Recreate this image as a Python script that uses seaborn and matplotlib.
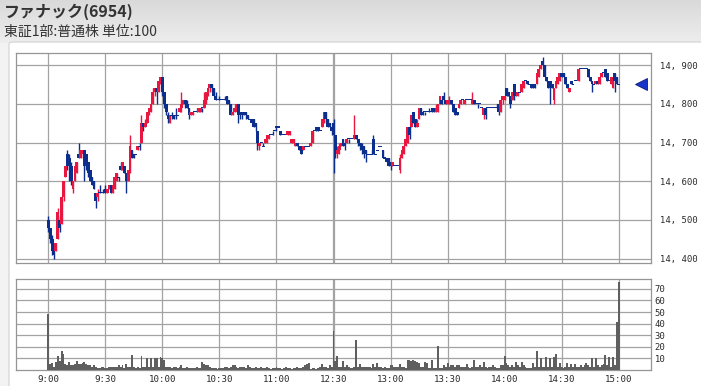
import matplotlib
matplotlib.use("Agg")
import matplotlib.pyplot as plt
from matplotlib.colors import LinearSegmentedColormap
from matplotlib.patches import FancyBboxPatch
import numpy as np
import pandas as pd
import seaborn as sns

TITLE = "ファナック(6954)"
SUBTITLE = "東証1部:普通株 単位:100"

time_labels = ["9:00", "9:30", "10:00", "10:30", "11:00", "12:30",
               "13:00", "13:30", "14:00", "14:30", "15:00"]
# trading-minute slot of each label (lunch break removed)
time_slots = [0, 30, 60, 90, 120, 150, 180, 210, 240, 270, 300]
price_ticks = [14400, 14500, 14600, 14700, 14800, 14900]
volume_ticks = [10, 20, 30, 40, 50, 60, 70]

opens = [
    14500, 14480, 14450, 14420, 14420, 14450, 14500, 14490, 14560, 14610,
    14670, 14660, 14640, 14580, 14600, 14620, 14670, 14660, 14670, 14680,
    14670, 14650, 14630, 14610, 14600, 14570, 14560, 14570, 14570, 14570,
    14580, 14570, 14580, 14590, 14570, 14580, 14600, 14610, 14640, 14630,
    14640, 14620, 14600, 14630, 14680, 14670, 14670, 14680, 14690, 14700,
    14750, 14740, 14750, 14780, 14790, 14800, 14830, 14840, 14830, 14860,
    14870, 14830, 14800, 14770, 14750, 14770, 14770, 14770, 14770, 14780,
    14790, 14800, 14810, 14800, 14790, 14770, 14770, 14780, 14780, 14780,
    14780, 14790, 14790, 14810, 14830, 14840, 14850, 14840, 14820, 14810,
    14810, 14810, 14810, 14810, 14820, 14810, 14800, 14770, 14780, 14780,
    14800, 14780, 14780, 14780, 14780, 14770, 14760, 14760, 14760, 14750,
    14730, 14690, 14700, 14690, 14700, 14700, 14710, 14720, 14720, 14730,
    14740, 14740, 14730, 14720, 14720, 14720, 14720, 14720, 14700, 14700,
    14690, 14700, 14690, 14690, 14680, 14690, 14690, 14690, 14690, 14700,
    14730, 14740, 14740, 14730, 14740, 14750, 14780, 14760, 14750, 14740,
    14750, 14720, 14670, 14680, 14690, 14710, 14700, 14700, 14710, 14710,
    14710, 14710, 14720, 14710, 14700, 14690, 14690, 14680, 14670, 14670,
    14670, 14710, 14670, 14680, 14690, 14690, 14680, 14660, 14660, 14660,
    14650, 14640, 14640, 14640, 14640, 14630, 14660, 14670, 14690, 14700,
    14740, 14740, 14780, 14760, 14740, 14760, 14790, 14780, 14780, 14780,
    14780, 14780, 14790, 14790, 14780, 14780, 14800, 14810, 14820, 14810,
    14800, 14800, 14810, 14800, 14790, 14780, 14790, 14800, 14810, 14800,
    14810, 14810, 14810, 14800, 14810, 14800, 14800, 14800, 14790, 14770,
    14790, 14790, 14790, 14790, 14790, 14790, 14790, 14800, 14780, 14810,
    14810, 14840, 14830, 14820, 14810, 14850, 14830, 14820, 14830, 14830,
    14840, 14860, 14860, 14850, 14850, 14850, 14850, 14850, 14870, 14890,
    14910, 14900, 14870, 14860, 14860, 14850, 14810, 14840, 14850, 14860,
    14880, 14880, 14870, 14850, 14830, 14860, 14850, 14860, 14860, 14860,
    14890, 14890, 14890, 14890, 14890, 14870, 14860, 14850, 14850, 14860,
    14850, 14870, 14880, 14890, 14880, 14860, 14850, 14840, 14880, 14870, 14850,
]

highs = [
    14510, 14480, 14460, 14430, 14440, 14530, 14510, 14560, 14600, 14640,
    14680, 14670, 14650, 14600, 14640, 14650, 14700, 14680, 14680, 14680,
    14670, 14650, 14630, 14610, 14600, 14570, 14580, 14590, 14570, 14580,
    14590, 14580, 14590, 14590, 14590, 14610, 14620, 14610, 14650, 14650,
    14640, 14620, 14630, 14720, 14680, 14670, 14670, 14690, 14700, 14770,
    14750, 14760, 14780, 14790, 14800, 14840, 14840, 14840, 14860, 14870,
    14870, 14830, 14800, 14780, 14770, 14780, 14770, 14790, 14770, 14790,
    14830, 14810, 14810, 14810, 14790, 14780, 14780, 14780, 14790, 14790,
    14790, 14790, 14830, 14830, 14840, 14850, 14850, 14840, 14830, 14810,
    14820, 14810, 14810, 14820, 14820, 14810, 14800, 14780, 14800, 14800,
    14800, 14780, 14780, 14780, 14780, 14770, 14760, 14760, 14760, 14750,
    14730, 14700, 14700, 14700, 14710, 14720, 14720, 14720, 14730, 14730,
    14740, 14740, 14730, 14720, 14720, 14720, 14730, 14730, 14710, 14710,
    14700, 14700, 14690, 14690, 14690, 14690, 14690, 14690, 14700, 14730,
    14730, 14740, 14740, 14730, 14760, 14780, 14780, 14760, 14750, 14740,
    14760, 14720, 14690, 14700, 14700, 14710, 14700, 14710, 14710, 14710,
    14710, 14770, 14720, 14710, 14700, 14700, 14690, 14680, 14670, 14670,
    14680, 14720, 14670, 14680, 14690, 14690, 14680, 14660, 14660, 14660,
    14650, 14650, 14640, 14640, 14640, 14670, 14680, 14690, 14710, 14740,
    14740, 14770, 14780, 14760, 14760, 14790, 14790, 14780, 14780, 14780,
    14790, 14780, 14790, 14790, 14800, 14800, 14820, 14810, 14830, 14810,
    14810, 14820, 14810, 14800, 14790, 14780, 14800, 14810, 14810, 14810,
    14810, 14810, 14810, 14830, 14810, 14800, 14800, 14800, 14790, 14790,
    14790, 14790, 14790, 14790, 14790, 14790, 14800, 14800, 14810, 14820,
    14820, 14840, 14830, 14820, 14830, 14850, 14830, 14830, 14830, 14850,
    14860, 14860, 14860, 14850, 14850, 14850, 14850, 14880, 14890, 14900,
    14920, 14900, 14870, 14860, 14860, 14850, 14840, 14860, 14870, 14880,
    14880, 14880, 14870, 14850, 14840, 14860, 14850, 14860, 14860, 14890,
    14890, 14890, 14890, 14890, 14890, 14870, 14860, 14850, 14860, 14860,
    14870, 14880, 14880, 14890, 14880, 14860, 14870, 14860, 14880, 14870, 14850,
]

lows = [
    14470, 14440, 14410, 14400, 14420, 14450, 14470, 14490, 14550, 14610,
    14630, 14600, 14590, 14570, 14600, 14620, 14660, 14660, 14660, 14600,
    14630, 14610, 14600, 14590, 14580, 14530, 14550, 14570, 14570, 14570,
    14570, 14570, 14580, 14570, 14570, 14580, 14600, 14600, 14630, 14630,
    14620, 14570, 14600, 14620, 14660, 14660, 14670, 14680, 14680, 14700,
    14730, 14740, 14750, 14770, 14780, 14800, 14820, 14800, 14830, 14850,
    14820, 14790, 14770, 14750, 14750, 14760, 14760, 14760, 14770, 14780,
    14780, 14800, 14790, 14790, 14760, 14770, 14770, 14780, 14780, 14780,
    14780, 14780, 14790, 14800, 14820, 14830, 14830, 14820, 14810, 14810,
    14810, 14810, 14810, 14810, 14800, 14800, 14770, 14770, 14780, 14780,
    14750, 14760, 14760, 14770, 14760, 14760, 14760, 14750, 14740, 14730,
    14680, 14680, 14700, 14690, 14700, 14700, 14710, 14720, 14720, 14730,
    14730, 14740, 14720, 14720, 14720, 14720, 14720, 14720, 14700, 14700,
    14690, 14690, 14680, 14670, 14680, 14690, 14690, 14690, 14690, 14700,
    14730, 14730, 14730, 14730, 14740, 14750, 14750, 14740, 14740, 14720,
    14620, 14660, 14660, 14670, 14690, 14690, 14680, 14700, 14700, 14710,
    14710, 14710, 14710, 14690, 14680, 14670, 14660, 14650, 14670, 14670,
    14670, 14670, 14670, 14680, 14690, 14690, 14660, 14660, 14650, 14640,
    14630, 14640, 14640, 14640, 14640, 14620, 14660, 14670, 14690, 14700,
    14710, 14740, 14750, 14740, 14740, 14760, 14770, 14770, 14770, 14780,
    14780, 14780, 14780, 14780, 14780, 14780, 14800, 14800, 14810, 14800,
    14800, 14800, 14800, 14780, 14770, 14770, 14790, 14800, 14810, 14800,
    14810, 14810, 14810, 14800, 14800, 14800, 14790, 14800, 14790, 14760,
    14760, 14790, 14790, 14790, 14790, 14790, 14790, 14770, 14780, 14800,
    14810, 14820, 14820, 14790, 14810, 14810, 14820, 14820, 14830, 14830,
    14840, 14860, 14850, 14850, 14840, 14840, 14840, 14850, 14870, 14890,
    14900, 14870, 14860, 14840, 14800, 14840, 14800, 14840, 14850, 14860,
    14870, 14870, 14850, 14840, 14830, 14850, 14850, 14860, 14860, 14860,
    14890, 14890, 14890, 14890, 14870, 14860, 14830, 14850, 14850, 14850,
    14850, 14870, 14880, 14870, 14860, 14860, 14850, 14840, 14830, 14850, 14850,
]

closes = [
    14480, 14450, 14420, 14410, 14440, 14520, 14480, 14560, 14600, 14640,
    14640, 14640, 14600, 14600, 14640, 14650, 14660, 14680, 14680, 14640,
    14640, 14620, 14600, 14590, 14580, 14550, 14570, 14570, 14570, 14570,
    14570, 14580, 14590, 14570, 14590, 14610, 14620, 14610, 14630, 14650,
    14620, 14600, 14630, 14690, 14660, 14660, 14670, 14690, 14690, 14750,
    14740, 14750, 14780, 14790, 14800, 14830, 14840, 14830, 14860, 14870,
    14830, 14800, 14780, 14760, 14770, 14770, 14760, 14770, 14770, 14790,
    14800, 14810, 14800, 14790, 14770, 14780, 14780, 14780, 14780, 14790,
    14790, 14790, 14810, 14830, 14840, 14850, 14840, 14820, 14810, 14810,
    14810, 14810, 14810, 14810, 14800, 14800, 14770, 14780, 14790, 14800,
    14770, 14770, 14770, 14770, 14770, 14760, 14760, 14750, 14740, 14740,
    14700, 14700, 14700, 14690, 14710, 14720, 14720, 14720, 14720, 14730,
    14740, 14740, 14720, 14720, 14720, 14720, 14730, 14730, 14710, 14710,
    14700, 14690, 14680, 14670, 14690, 14690, 14690, 14690, 14700, 14730,
    14730, 14730, 14730, 14730, 14760, 14780, 14760, 14740, 14740, 14730,
    14720, 14670, 14680, 14690, 14700, 14690, 14690, 14710, 14710, 14710,
    14710, 14720, 14710, 14700, 14690, 14680, 14670, 14670, 14670, 14670,
    14670, 14670, 14670, 14680, 14690, 14690, 14660, 14660, 14650, 14640,
    14640, 14650, 14640, 14640, 14640, 14660, 14680, 14690, 14710, 14740,
    14720, 14770, 14750, 14740, 14750, 14790, 14770, 14770, 14780, 14780,
    14780, 14780, 14780, 14780, 14790, 14800, 14820, 14800, 14810, 14800,
    14810, 14810, 14800, 14780, 14770, 14770, 14800, 14810, 14810, 14810,
    14810, 14810, 14810, 14810, 14800, 14800, 14800, 14800, 14790, 14790,
    14770, 14790, 14790, 14790, 14790, 14790, 14790, 14780, 14810, 14820,
    14820, 14820, 14820, 14800, 14830, 14820, 14820, 14830, 14830, 14850,
    14860, 14860, 14850, 14850, 14840, 14840, 14840, 14880, 14890, 14900,
    14900, 14870, 14860, 14840, 14840, 14840, 14840, 14860, 14870, 14880,
    14870, 14870, 14850, 14840, 14840, 14850, 14850, 14860, 14860, 14890,
    14890, 14890, 14890, 14890, 14870, 14860, 14850, 14850, 14860, 14850,
    14870, 14880, 14880, 14870, 14860, 14860, 14870, 14860, 14860, 14850, 14850,
]

volumes = [
    48, 5, 6, 3, 7, 12, 8, 16, 14, 5,
    4, 7, 4, 4, 5, 8, 5, 5, 6, 7,
    5, 4, 4, 3, 4, 3, 2, 2, 3, 3,
    2, 2, 3, 3, 3, 3, 3, 4, 3, 4,
    2, 5, 3, 3, 13, 3, 2, 3, 2, 12,
    3, 3, 10, 3, 10, 3, 10, 10, 3, 11,
    10, 9, 3, 3, 3, 2, 3, 3, 2, 3,
    4, 2, 2, 3, 2, 2, 2, 2, 3, 2,
    2, 7, 5, 4, 4, 3, 2, 2, 2, 1,
    2, 2, 2, 3, 3, 2, 3, 4, 4, 3,
    2, 3, 3, 3, 2, 4, 3, 2, 2, 3,
    2, 2, 3, 2, 2, 3, 2, 1, 2, 2,
    3, 2, 2, 1, 2, 3, 2, 2, 1, 2,
    2, 3, 2, 2, 3, 4, 5, 6, 1, 2,
    2, 1, 2, 3, 5, 3, 3, 2, 4, 3,
    34, 8, 12, 3, 3, 8, 3, 4, 3, 2,
    2, 3, 26, 3, 5, 3, 3, 3, 3, 3,
    2, 5, 3, 6, 3, 3, 2, 3, 2, 2,
    4, 4, 3, 3, 3, 5, 3, 3, 2, 9,
    9, 8, 9, 8, 7, 6, 3, 3, 7, 6,
    2, 2, 9, 2, 2, 21, 2, 2, 4, 3,
    6, 3, 4, 4, 3, 4, 4, 3, 3, 3,
    5, 3, 2, 3, 9, 3, 3, 4, 3, 7,
    3, 2, 3, 3, 4, 3, 2, 2, 4, 4,
    12, 6, 4, 3, 4, 3, 7, 4, 3, 7,
    4, 3, 2, 2, 2, 6, 3, 16, 3, 10,
    3, 3, 11, 3, 10, 3, 11, 14, 3, 6,
    3, 2, 3, 6, 3, 5, 3, 5, 3, 3,
    4, 3, 4, 6, 4, 3, 10, 3, 10, 4,
    3, 4, 5, 13, 4, 11, 3, 11, 4, 41, 76,
]

df = pd.DataFrame({
    "slot": np.arange(len(closes)),
    "open": opens, "high": highs, "low": lows, "close": closes,
    "volume": volumes,
})

sns.set_theme(style="white")
plt.rcParams["font.family"] = ["Noto Sans CJK JP", "DejaVu Sans"]

RED = "#e8173f"
BLUE = "#0c2f8e"
GRID = "#a3a3a3"
FRAME = "#959595"
VOLC = "#5f5f5f"
TXT = "#2a2a2a"
MONO = "DejaVu Sans Mono"

W, H = 701, 386
fig = plt.figure(figsize=(W / 100, H / 100), dpi=100)


def fx(px):
    return px / W


def fy(py):
    return 1 - py / H


# background: grey gradient header, white panel
bg = fig.add_axes([0, 0, 1, 1], zorder=0)
bg.set_xlim(0, 1)
bg.set_ylim(0, 1)
bg.set_axis_off()
grad = np.linspace(0, 1, 256).reshape(-1, 1)
cmap = LinearSegmentedColormap.from_list("hdr", ["#d9d9d9", "#eeeeee"])
bg.imshow(grad, extent=[0, 1, fy(43), 1], aspect="auto", cmap=cmap,
          origin="upper", zorder=0)
bg.add_patch(plt.Rectangle((0, 0), 1, fy(43), color="#f3f3f3", zorder=0.5))
bg.add_patch(FancyBboxPatch((fx(9), -0.02), 1.1, fy(42) + 0.02,
                            boxstyle="round,pad=0,rounding_size=0.006",
                            facecolor="white", edgecolor="#d2d2d2",
                            linewidth=0.8, zorder=1))

fig.text(fx(4), fy(12), TITLE, fontsize=11.5, fontweight="bold",
         color="#333333", va="center", ha="left")
fig.text(fx(4), fy(32), SUBTITLE, fontsize=10, color="#333333",
         va="center", ha="left")

XMIN, XMAX = -17, 317

# ---------------- price panel ----------------
axp = fig.add_axes([fx(16), fy(263), fx(651) - fx(16), fy(53) - fy(263)],
                   zorder=2)
axp.set_facecolor("white")
up = df["close"] > df["open"]
col = np.where(up, RED, BLUE)
body = (df["close"] - df["open"]).abs()
bh = np.maximum(body, 2.8)
bottom = np.minimum(df["open"], df["close"]) - (bh - body) / 2
axp.vlines(df["slot"], df["low"], df["high"], colors=col, lw=1.0, zorder=3)
axp.bar(df["slot"], bh, bottom=bottom, width=1.5, color=col,
        linewidth=0, zorder=4)
axp.plot([312], [closes[-1]], marker="<", ms=9, color="#1535cc",
         mec="#0a1e78", mew=0.6, clip_on=False, zorder=6)

for p in price_ticks:
    axp.axhline(p, color=GRID, lw=0.9, zorder=1)

axp.set_xlim(XMIN, XMAX)
axp.set_ylim(14389, 14931)
axp.set_xticks([])
axp.yaxis.tick_right()
axp.set_yticks(price_ticks)
axp.set_yticklabels([f"{p // 1000}, {p % 1000:03d}" for p in price_ticks],
                    fontfamily=MONO)
axp.tick_params(axis="y", length=0, pad=6.5, labelsize=6.4, labelcolor=TXT)

# ---------------- volume panel ----------------
axv = fig.add_axes([fx(16), fy(370), fx(651) - fx(16), fy(279.3) - fy(370)],
                   zorder=2)
axv.set_facecolor("white")
sns.barplot(data=df, x="slot", y="volume", native_scale=True, color=VOLC,
            saturation=1, width=1.0, linewidth=0, errorbar=None, ax=axv,
            zorder=3)
for v in volume_ticks:
    axv.axhline(v, color=GRID, lw=0.9, zorder=1)
axv.set_xlim(XMIN, XMAX)
axv.set_ylim(0, 78.2)
axv.set_xlabel("")
axv.set_ylabel("")
axv.yaxis.tick_right()
axv.set_yticks(volume_ticks)
axv.set_yticklabels([str(v) for v in volume_ticks], fontfamily=MONO)
axv.tick_params(axis="y", length=0, pad=2.5, labelsize=6.4, labelcolor=TXT)
axv.set_xticks(time_slots)
axv.set_xticklabels(time_labels, fontfamily=MONO)
axv.tick_params(axis="x", length=0, pad=3.5, labelsize=6.6, labelcolor=TXT)

# vertical grid lines (double line at the lunch-break joint)
for ax in (axp, axv):
    for s in time_slots:
        if s == time_slots[5]:
            ax.axvline(s - 0.5, color=GRID, lw=0.9, zorder=1)
            ax.axvline(s + 0.5, color=GRID, lw=0.9, zorder=1)
        else:
            ax.axvline(s, color=GRID, lw=0.9, zorder=1)
    ax.grid(False)
    for sp in ax.spines.values():
        sp.set_color(FRAME)
        sp.set_linewidth(0.9)

fig.savefig("out.png", dpi=100)
